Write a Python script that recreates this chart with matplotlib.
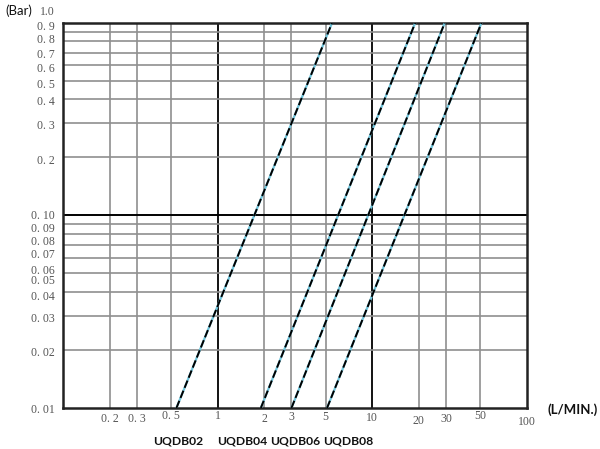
import numpy as np
import matplotlib.pyplot as plt
import matplotlib.transforms as mtransforms

# pressure drop vs flow for each coupling size
models = ['UQDB02', 'UQDB04', 'UQDB06', 'UQDB08']
pressure = [0.01, 1.0]                # bar, bottom and top of each line
flow_low = [0.54, 1.9, 3.0, 5.1]      # L/min at 0.01 bar
flow_high = [5.5, 19.0, 29.5, 51.0]   # L/min at 1.0 bar

x_ticks = [0.2, 0.3, 0.5, 1, 2, 3, 5, 10, 20, 30, 50, 100]
x_labels = ['0. 2', '0. 3', '0. 5', '1', '2', '3', '5', '10', '20', '30', '50', '100']
y_ticks = [0.01, 0.02, 0.03, 0.04, 0.05, 0.06, 0.07, 0.08, 0.09, 0.1,
           0.2, 0.3, 0.4, 0.5, 0.6, 0.7, 0.8, 0.9, 1.0]
y_labels = ['0. 01', '0. 02', '0. 03', '0. 04', '0. 05', '0. 06', '0. 07', '0. 08', '0. 09', '0. 10',
            '0. 2', '0. 3', '0. 4', '0. 5', '0. 6', '0. 7', '0. 8', '0. 9', '1.0']

fig = plt.figure(figsize=(6, 4.49), dpi=100)
ax = fig.add_axes([0.1055, 0.0913, 0.7723, 0.8581])
ax.set_xscale('log')
ax.set_yscale('log')
ax.set_xlim(0.1, 100)
ax.set_ylim(0.01, 1.0)

# grid
for xv in x_ticks[:-1]:
    major = xv in (1, 10)
    ax.axvline(xv, color='black' if major else '#8f8f8f', lw=1.3 if major else 1.2, zorder=1)
for yv in y_ticks[1:-1]:
    major = yv == 0.1
    ax.axhline(yv, color='black' if major else '#8f8f8f', lw=1.4 if major else 1.2, zorder=1)

# curves: light blue under black dashes
for lo, hi in zip(flow_low, flow_high):
    ax.plot([lo, hi], pressure, color='#6fc3da', lw=1.6, zorder=3, solid_capstyle='butt')
    ax.plot([lo, hi], pressure, color='black', lw=1.4, zorder=4, dashes=(4, 1.6))

for s in ax.spines.values():
    s.set_linewidth(1.8)
    s.set_color('#222222')

ax.minorticks_off()
ax.set_xticks(x_ticks)
ax.set_xticklabels(x_labels)
ax.set_yticks(y_ticks)
ax.set_yticklabels(y_labels)
ax.tick_params(axis='y', length=0, pad=6, labelsize=8.5, labelcolor='#555555')
ax.tick_params(axis='x', length=0, pad=2, labelsize=8.5, labelcolor='#555555')
for t in ax.get_xticklabels() + ax.get_yticklabels():
    t.set_fontfamily('Liberation Serif')

# the scanned chart has the labels slightly out of line (pixels, + is up)
x_shift = [-2, -2, 1, 1, -2, 0, 0, -1, -4, -2, 1, -5]
for t, dy in zip(ax.get_xticklabels(), x_shift):
    t.set_transform(t.get_transform() + mtransforms.ScaledTranslation(0, dy / 100, fig.dpi_scale_trans))
y_shift = {'1.0': 12, '0. 9': 6, '0. 8': 3, '0. 7': -1, '0. 6': -2, '0. 5': -3, '0. 4': -1,
           '0. 3': -1, '0. 2': -2, '0. 10': 1, '0. 09': -3, '0. 08': -6.5, '0. 07': -8.5,
           '0. 06': -11, '0. 05': -6.5, '0. 04': -3.5, '0. 03': -1, '0. 02': -1}
for t in ax.get_yticklabels():
    dy = y_shift.get(t.get_text(), 0)
    t.set_transform(t.get_transform() + mtransforms.ScaledTranslation(0, dy / 100, fig.dpi_scale_trans))

fig.text(5 / 600, 1 - 11 / 449, '(Bar)', fontsize=9.5, family='Lato', color='#111111', va='center')
fig.text(548 / 600, 1 - 410 / 449, '(L/MIN.)', fontsize=9.5, family='Lato', weight='bold',
         color='#111111', va='center')

model_x = [178, 242, 295, 348]
for name, px in zip(models, model_x):
    fig.text(px / 600, 1 - 441 / 449, name, fontsize=8.7, family='Lato', weight='bold',
             color='#111111', ha='center', va='center')

fig.savefig('out.png', dpi=100)
